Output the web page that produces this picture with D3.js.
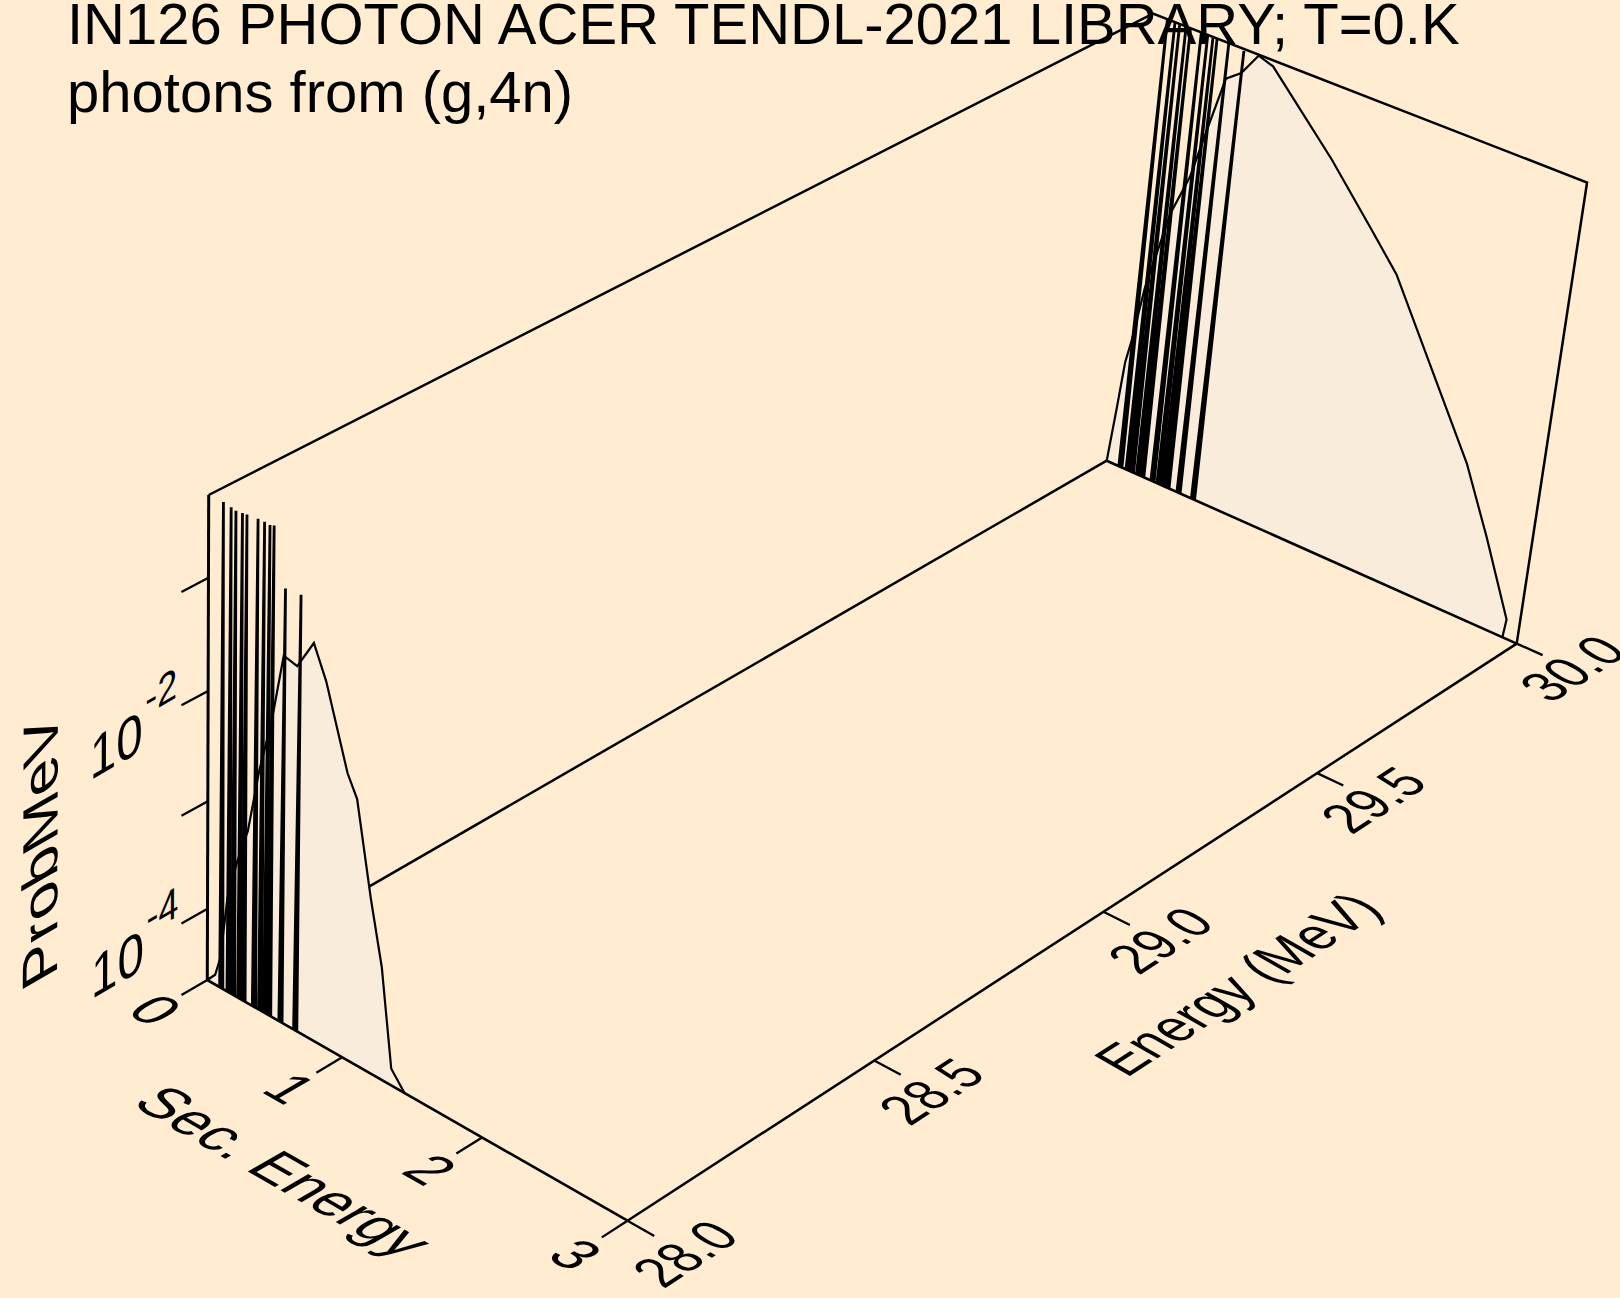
<!DOCTYPE html>
<html>
<head>
<meta charset="utf-8">
<title>IN126 photons from (g,4n)</title>
<script src="https://cdn.jsdelivr.net/npm/d3@7"></script>
<style>
  html, body { margin: 0; padding: 0; background: #FFECD1; }
  svg { display: block; }
  text { font-family: "Liberation Sans", Arial, sans-serif; fill: #000; }
</style>
</head>
<body>
<div id="chart"></div>
<script>
var titleLines = ["IN126 PHOTON ACER TENDL-2021 LIBRARY; T=0.K", "photons from (g,4n)"];

var secTicks = [0, 1, 2, 3];
var energyTicks = [28.0, 28.5, 29.0, 29.5, 30.0];
var probTicks = [1e-4, 1e-3, 1e-2, 1e-1];
var probLabels = [[1e-4, "-4"], [1e-2, "-2"]];

// discrete gamma lines, same secondary energies at both incident energies
var lineSec = [0.105, 0.16, 0.194, 0.24, 0.272, 0.35, 0.396, 0.434, 0.463, 0.547, 0.656];
var lineProb28 = [0.525, 0.51, 0.50, 0.51, 0.518, 0.533, 0.536, 0.53, 0.547, 0.178, 0.184];
var lineProb30 = [0.52, 0.52, 0.52, 0.52, 0.52, 0.52, 0.52, 0.52, 0.52, 0.53, 0.50];

// continuum at 28 MeV
var contSec28 = [0, 0.059, 0.097, 0.148, 0.22, 0.295, 0.374, 0.458, 0.54, 0.636, 0.75, 0.84, 1.0, 1.07, 1.18, 1.268, 1.352, 1.45];
var contProb28 = [2.1e-5, 2.6e-5, 4e-5, 1.6e-4, 4e-4, 8.5e-4, 3.4e-3, 1.05e-2, 4.6e-2, 4.3e-2, 8.1e-2, 4.3e-2, 8.5e-3, 5.6e-3, 8.5e-4, 2.3e-4, 3e-5, 2.1e-5];

// continuum at 30 MeV
var contSec30 = [0, 0.033, 0.06, 0.09, 0.145, 0.27, 0.38, 0.453, 0.554, 0.655, 0.76, 0.866, 1.335, 1.66, 1.865, 2.5, 2.70, 2.91, 2.90];
var contProb30 = [2.1e-5, 7.4e-5, 2.3e-4, 3.9e-4, 1.4e-3, 8.9e-3, 2.3e-2, 6.3e-2, 0.244, 0.31, 0.51, 0.46, 0.11, 0.036, 0.0175, 6.2e-4, 1.55e-4, 3.2e-5, 2.1e-5];

var width = 1620, height = 1298;
var ink = "#000", wash = "#F9ECDB";

var svg = d3.select("#chart").append("svg")
    .attr("width", width)
    .attr("height", height);
svg.append("rect").attr("width", width).attr("height", height).attr("fill", "#FFECD1");

// axis scales go to the unit cube, the perspective below takes it to the page
var sx = d3.scaleLinear().domain([0, 3]).range([0, 1]);
var ex = d3.scaleLinear().domain([28, 30]).range([0, 1]);
var zx = d3.scaleLog().domain([2.1e-5, 0.52]).range([0, 1]);

// where the corners of the box land on the page
var c000 = [207.3, 980], c100 = [627.5, 1220.7], c010 = [1106.7, 460.7], c110 = [1516.7, 643.6];
var c001 = [208.7, 495], c011 = [1153.3, 13], c111 = [1586.7, 182.9];

function cubeToPage() {
    // floor: square to quad
    var dx1 = c100[0] - c110[0], dx2 = c010[0] - c110[0], sumx = c000[0] - c100[0] + c110[0] - c010[0];
    var dy1 = c100[1] - c110[1], dy2 = c010[1] - c110[1], sumy = c000[1] - c100[1] + c110[1] - c010[1];
    var den = dx1 * dy2 - dx2 * dy1;
    var a = (sumx * dy2 - dx2 * sumy) / den;
    var b = (dx1 * sumy - sumx * dy1) / den;
    var A = [c100[0] - c000[0] + a * c100[0], c100[1] - c000[1] + a * c100[1]];
    var B = [c010[0] - c000[0] + b * c010[0], c010[1] - c000[1] + b * c010[1]];
    // height: least squares on the two far top corners
    var num = 0, sq = 0;
    [0, 1].forEach(function (k) {
        var d1 = c001[k] - c011[k], e1 = c011[k] * (1 + b) - B[k] - c001[k];
        var d2 = c001[k] - c111[k], e2 = c111[k] * (1 + a + b) - A[k] - B[k] - c001[k];
        num += d1 * e1 + d2 * e2;
        sq += d1 * d1 + d2 * d2;
    });
    var c = num / sq;
    var C = [c001[0] * (1 + c) - c000[0], c001[1] * (1 + c) - c000[1]];
    return function (u, v, w) {
        var q = 1 + a * u + b * v + c * w;
        return [(c000[0] + A[0] * u + B[0] * v + C[0] * w) / q,
                (c000[1] + A[1] * u + B[1] * v + C[1] * w) / q];
    };
}
var cube = cubeToPage();

function project(sec, energy, prob) {
    return cube(sx(sec), ex(energy), zx(prob));
}

var zMin = zx.domain()[0], zMax = zx.domain()[1];
var line = d3.line();

function polyline(pts, sw) {
    return svg.append("path")
        .attr("d", line(pts))
        .attr("fill", "none")
        .attr("stroke", ink)
        .attr("stroke-width", sw)
        .attr("stroke-linejoin", "miter");
}

// box behind the spectra
polyline([project(0, 28, zMax), project(0, 30, zMax), project(3, 30, zMax), project(3, 30, zMin)], 2.5);
polyline([project(0, 28, zMin), project(0, 30, zMin)], 2.5);
polyline([project(3, 28, zMin), project(3, 30, zMin)], 2.5);

// one spectrum: wash under the continuum, then lines, then the curve on top
function spectrum(energy, contSec, contProb, lineProb) {
    var pts = contSec.map(function (s, i) { return project(s, energy, contProb[i]); });
    svg.append("path")
        .attr("d", line(pts) + "Z")
        .attr("fill", wash)
        .attr("stroke", "none");
    lineSec.forEach(function (s, i) {
        // each line is a narrow peak, so it thickens towards the floor
        polyline([project(s - 0.012, energy, zMin), project(s, energy, lineProb[i]), project(s + 0.012, energy, zMin)], 2.8)
            .attr("fill", ink);
    });
    polyline(pts, 2.2);
    polyline([project(0, energy, zMin), project(3, energy, zMin)], 2.6);
}
spectrum(30, contSec30, contProb30, lineProb30);
spectrum(28, contSec28, contProb28, lineProb28);

// front vertical axis
polyline([project(0, 28, zMin), project(0, 28, zMax)], 3);

// ticks
secTicks.forEach(function (s) {
    polyline([project(s, 28, zMin), project(s, 27.95, zMin)], 2.3);
});
energyTicks.forEach(function (e) {
    polyline([project(3, e, zMin), project(3.18, e, zMin)], 2.3);
});
probTicks.forEach(function (p) {
    polyline([project(0, 28, p), project(0, 27.95, p)], 2.3);
});

// text lying in a plane of the box: along = baseline direction, up = glyph top direction
function planeText(pos, along, up, size, alongScale, upScale) {
    var m = [along[0] * alongScale, along[1] * alongScale, -up[0] * upScale, -up[1] * upScale, pos[0], pos[1]];
    return svg.append("text")
        .attr("transform", "matrix(" + m.join(",") + ")")
        .attr("text-anchor", "middle")
        .attr("dy", "0.35em")
        .attr("font-size", size);
}
function dir(p, q) {
    var dx = q[0] - p[0], dy = q[1] - p[1], l = Math.sqrt(dx * dx + dy * dy);
    return [dx / l, dy / l];
}
function neg(v) { return [-v[0], -v[1]]; }

var sDir = dir(project(0, 28, zMin), project(3, 28, zMin));
var eDir = dir(project(3, 28, zMin), project(3, 30, zMin));
var eDirLeft = dir(project(0, 28, zMin), project(0, 30, zMin));
var zDir = dir(project(0, 28, zMin), project(0, 28, zMax));

secTicks.forEach(function (s) {
    planeText(project(s, 27.9, zMin), sDir, eDirLeft, 56, 0.98, 1.05).text(s);
});
planeText(project(1.48, 27.762, zMin), sDir, eDirLeft, 58, 0.99, 1.05).text("Sec. Energy");

energyTicks.forEach(function (e) {
    planeText(project(3.385, e, zMin), eDir, neg(sDir), 54, 0.89, 1.08).text(e.toFixed(1));
});
planeText(project(3.93, 28.99, zMin), eDir, neg(sDir), 58, 0.86, 1.03).text("Energy (MeV)");

probLabels.forEach(function (d) {
    var t = planeText(project(0, 27.861, d[0] * 0.92), eDirLeft, zDir, 56, 0.98, 1.05);
    t.append("tspan").text("10");
    t.append("tspan").attr("font-size", 42).attr("dx", 3).attr("dy", -32).text(d[1]);
});
planeText(project(0, 27.689, 2.4e-3), zDir, neg(eDirLeft), 56, 1.14, 1.025).text("ProbMeV");

// title goes over everything
svg.selectAll(".title")
    .data(titleLines)
    .enter()
    .append("text")
    .attr("class", "title")
    .attr("x", 67)
    .attr("y", function (d, i) { return 44 + i * 68; })
    .attr("font-size", 58)
    .text(function (d) { return d; });
</script>
</body>
</html>
